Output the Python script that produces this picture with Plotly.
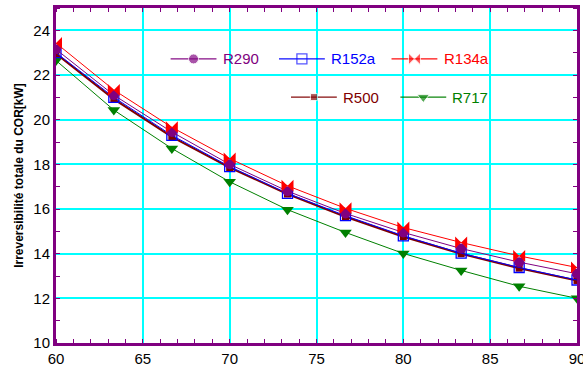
import plotly.graph_objects as go

temps = [60, 63.33, 66.67, 70, 73.33, 76.67, 80, 83.33, 86.67, 90]
r290 = [23.15, 21.1, 19.45, 18.0, 16.8, 15.8, 14.95, 14.23, 13.62, 13.1]
r152a = [23.0, 21.0, 19.3, 17.9, 16.7, 15.7, 14.8, 14.02, 13.38, 12.82]
r134a = [23.43, 21.33, 19.66, 18.26, 17.04, 16.03, 15.17, 14.5, 13.9, 13.38]
r500 = [22.95, 20.92, 19.23, 17.85, 16.67, 15.65, 14.76, 14.0, 13.35, 12.8]
r717 = [22.65, 20.43, 18.71, 17.22, 15.97, 14.95, 14.01, 13.25, 12.54, 12.0]

x_ticks = [60, 65, 70, 75, 80, 85, 90]
y_ticks = [10, 12, 14, 16, 18, 20, 22, 24]

PURPLE = "#800080"
BLUE = "#0000FF"
RED = "#FF0000"
MAROON = "#800000"
GREEN = "#008000"
CYAN = "#00FFFF"
FONT = "Liberation Sans, Arial"

# name, values, colour, marker, line width, legend-key layout (x start, y centre in paper fractions)
series = [
    ("R717", r717, GREEN, dict(symbol="triangle-down", size=11, color=GREEN), 1, (0.661, 0.734)),
    ("R500", r500, MAROON, dict(symbol="square", size=7, color=MAROON), 2, (0.451, 0.734)),
    ("R152a", r152a, BLUE, dict(symbol="square-open", size=10, color=BLUE, line=dict(width=1.3)), 1, (0.428, 0.848)),
    ("R290", r290, PURPLE, dict(symbol="circle", size=10, color=PURPLE), 1, (0.220, 0.848)),
    ("R134a", r134a, RED, dict(symbol="bowtie", size=12, color=RED), 1, (0.644, 0.848)),
]
KEY_LEN = 0.088
TEXT_GAP = 0.008

fig = go.Figure()
for name, ys, col, mk, w, _ in series:
    fig.add_trace(go.Scatter(
        x=temps, y=ys, mode="lines+markers", name=name, showlegend=False,
        line=dict(color=col, width=w), marker=mk,
    ))

# legend keys drawn on an overlay axis spanning the plot area (0..1)
for name, ys, col, mk, w, (kx, ky) in series:
    mk2 = dict(mk)
    mk2["size"] = [0, mk["size"], 0]
    fig.add_trace(go.Scatter(
        x=[kx, kx + KEY_LEN / 2, kx + KEY_LEN], y=[ky, ky, ky],
        mode="lines+markers", xaxis="x2", yaxis="y2", showlegend=False,
        hoverinfo="skip", line=dict(color=col, width=1.2), marker=mk2, opacity=0.95,
    ))
    fig.add_annotation(
        x=kx + KEY_LEN + TEXT_GAP, y=ky, xref="x2", yref="y2",
        text=name, showarrow=False, xanchor="left", yanchor="middle",
        font=dict(family=FONT, size=15, color=col),
    )

axis_common = dict(
    showline=True, linecolor=PURPLE, linewidth=3, mirror="allticks",
    showgrid=True, gridcolor=CYAN, gridwidth=2,
    ticks="", zeroline=False, automargin=False, ticklabeloverflow="allow",
    tickfont=dict(family=FONT, size=15, color="black"),
)
fig.update_xaxes(range=[60, 90], tickvals=x_ticks,
                 minor=dict(dtick=1, tick0=60, ticks="inside", ticklen=4, tickcolor=PURPLE, showgrid=False),
                 **axis_common)
fig.update_yaxes(range=[10, 25], tickvals=y_ticks,
                 minor=dict(dtick=1, tick0=10, ticks="inside", ticklen=4, tickcolor=PURPLE, showgrid=False),
                 title=dict(text="<b>Irreversibilité totale du COR[kW]</b>",
                            font=dict(family=FONT, size=12, color="black"), standoff=8),
                 **axis_common)

fig.update_layout(
    width=583, height=369,
    margin=dict(l=56, r=6, t=8, b=26, autoexpand=False),
    paper_bgcolor="white", plot_bgcolor="white",
    showlegend=False,
    xaxis2=dict(overlaying="x", range=[0, 1], visible=False, fixedrange=True),
    yaxis2=dict(overlaying="y", range=[0, 1], visible=False, fixedrange=True),
)
fig.write_html("out.html", config={"displayModeBar": False},
               post_script="document.body.style.margin='0';")
